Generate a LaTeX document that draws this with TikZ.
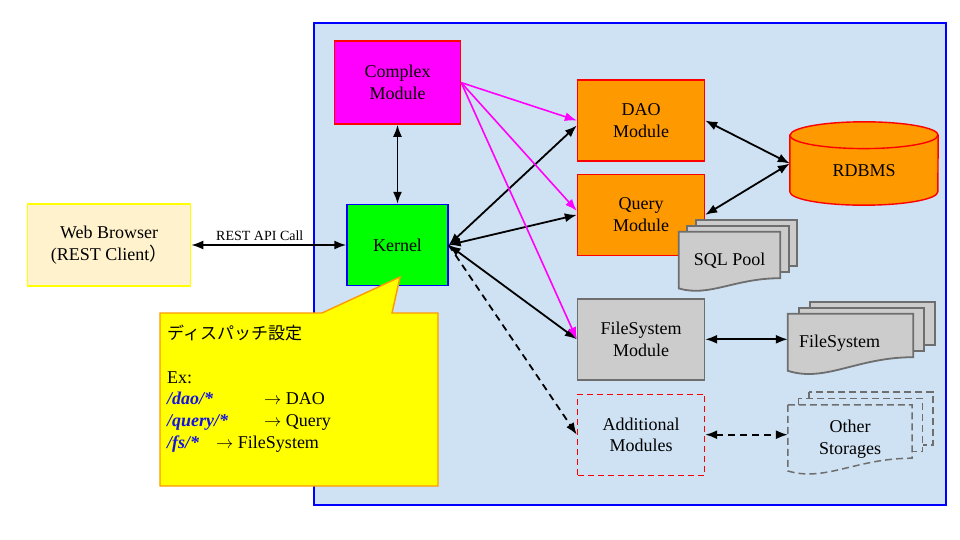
\documentclass[tikz,border=0pt]{standalone}
\usepackage{fontspec}
\setmainfont{Liberation Serif}
\newfontfamily\jpfont{Noto Sans CJK JP}
\usepackage{xcolor}
\usetikzlibrary{arrows.meta,positioning,calc}

\pgfdeclarelayer{docs}
\pgfdeclarelayer{docstext}
\pgfsetlayers{main,docs,docstext}

\definecolor{panelblue}{RGB}{207,226,243}
\definecolor{cream}{RGB}{255,242,204}
\definecolor{kernelgreen}{RGB}{0,255,0}
\definecolor{modorange}{RGB}{255,153,0}
\definecolor{complexpink}{RGB}{255,0,255}
\definecolor{noteyellow}{RGB}{255,255,0}
\definecolor{docgray}{RGB}{204,204,204}
\definecolor{edgegray}{RGB}{110,110,110}
\definecolor{pathblue}{RGB}{20,20,225}

\newcommand{\urlpat}[1]{\textcolor{pathblue}{\textbf{\textit{#1}}}}

% one page with a wavy bottom, drawn round a node
\newcommand{\docpage}[3]{%
  \path[#3] (#1.north west) -- (#1.north east) -- ([yshift=#2]#1.south east)
    .. controls ($(#1.south east)!0.45!(#1.south west)+(0,#2)$)
    and ($(#1.south west)!0.3!(#1.south east)+(0,-0.6*#2)$)
    .. ([yshift=0.15*#2]#1.south west) -- cycle;}
% three pages: node, dx, dy, wave, style
\newcommand{\docstack}[5]{%
  \foreach \k in {2,1}
    \path[#5] ([shift={(\k*#2,\k*#3)}]#1.north west) rectangle ([shift={(\k*#2,\k*#3+#4)}]#1.south east);
  \docpage{#1}{#4}{#5}}

\begin{document}
\begin{tikzpicture}[
    x=1pt, y=-1pt,
    every node/.style={font=\fontsize{18}{21.7}\selectfont},
    module/.style={rectangle, draw=red, line width=1.4pt, fill=modorange, minimum width=127pt, minimum height=81pt, inner sep=0pt, align=center},
    graymodule/.style={module, draw=edgegray, fill=docgray},
    newmodule/.style={module, draw=red, fill=none, dash pattern=on 6pt off 4pt},
    docbox/.style={rectangle, inner sep=0pt, align=center},
    docpath/.style={draw=edgegray, fill=docgray, line width=1.8pt},
    newdocpath/.style={draw=edgegray, fill=panelblue, line width=1.5pt, dash pattern=on 7pt off 4pt},
    cylpath/.style={draw=red, fill=modorange, line width=1.4pt},
    arrow/.style={<->, line width=1.8pt, >={Latex[length=12pt,width=9pt]}},
    callarrow/.style={->, line width=1.6pt, draw=complexpink, >={Latex[length=12pt,width=9pt]}},
    callout/.style={draw=modorange, fill=noteyellow, line width=1.4pt}
]
\useasboundingbox (0,0) rectangle (960,540);

% system panel
\path[draw=blue, line width=1.4pt, fill=panelblue] (314,23) rectangle (946,505);

% modules
\node[module, fill=kernelgreen, draw=blue, minimum width=101pt] (kernel) at (397.5,245) {Kernel};
\node[module, fill=complexpink, above=79pt of kernel, minimum width=126pt, minimum height=83pt] (complex) {Complex\\Module};
\node[module, fill=cream, draw=noteyellow, minimum width=163pt, minimum height=82pt, left=155pt of kernel] (browser) {Web Browser\\(REST Client{\jpfont ）}};

\node[module] (dao) at (641,120.5) {DAO\\Module};
\node[module, below=12pt of dao] (query) {Query\\Module};
\node[graymodule, below=42pt of query] (fsmod) {FileSystem\\Module};
\node[newmodule, below=13pt of fsmod] (addmod) {Additional\\Modules};

% storages
\begin{pgfonlayer}{docstext}
\node[docbox, minimum width=148pt, minimum height=83pt] (rdbms) at (864,163.5) {\raisebox{-7pt}[12pt][0pt]{RDBMS}};
\node[docbox, minimum width=101pt, minimum height=58pt] (sqlpool) at (729.5,261) {SQL Pool};
\node[docbox, minimum width=125pt, minimum height=59pt] (fsstore) at (850.5,343.5) {FileSystem\hspace*{22pt}};
\node[docbox, minimum width=124pt, minimum height=68pt] (otherstore) at (850,439) {Other\\Storages};
\end{pgfonlayer}
\begin{pgfonlayer}{docs}
\path[cylpath] ([yshift=-13.4pt]rdbms.north west) -- ([yshift=13.4pt]rdbms.south west)
    arc[start angle=180, end angle=360, x radius=74pt, y radius=13.4pt]
    -- ([yshift=-13.4pt]rdbms.north east)
    arc[start angle=0, end angle=180, x radius=74pt, y radius=13.4pt] -- cycle;
\path[cylpath, fill=none] ([yshift=-13.4pt]rdbms.north west)
    arc[start angle=180, end angle=360, x radius=74pt, y radius=13.4pt];
\docstack{sqlpool}{8.5pt}{6pt}{12pt}{docpath}
\docstack{fsstore}{11pt}{6pt}{16pt}{docpath}
\docstack{otherstore}{10.5pt}{6.5pt}{15pt}{newdocpath}
\end{pgfonlayer}

% arrows
\draw[arrow] (browser) -- node[above, font=\fontsize{14}{16}\selectfont, xshift=-9pt, inner sep=3pt] {REST API Call} (kernel);
\draw[arrow] (complex) -- (kernel);
\draw[arrow] (kernel.east) -- ([yshift=-5pt]dao.west);
\draw[arrow] (kernel.east) -- (query.west);
\draw[arrow] (kernel.east) -- (fsmod.west);
\draw[arrow, ->, dash pattern=on 7pt off 5pt] (kernel.east) -- (addmod.west);
\draw[callarrow] (complex.east) -- (dao.west);
\draw[callarrow] (complex.east) -- ([yshift=4pt]query.west);
\draw[callarrow] (complex.east) -- (fsmod.west);
\draw[arrow] (dao.east) -- (rdbms.west);
\draw[arrow] (query.east) -- (rdbms.west);
\draw[arrow] (fsmod.east) -- (fsmod.east -| fsstore.west);
\draw[arrow, dash pattern=on 7pt off 5pt] (addmod.east) -- (addmod.east -| otherstore.west);

% dispatch callout
\draw[callout] (160,313) -- (322,313) -- (400,277) -- (392,313) -- (438,313) -- (438,486) -- (160,486) -- cycle;
\node[anchor=north west, align=left, inner sep=0pt] (dispatch) at (167,325) {
    {\jpfont\fontsize{17}{21.7}\selectfont ディスパッチ設定}\\[21.7pt]
    Ex:\\
    \makebox[97pt][l]{\urlpat{/dao/*}}$\rightarrow$ DAO\\
    \makebox[97pt][l]{\urlpat{/query/*}}$\rightarrow$ Query\\
    \makebox[49pt][l]{\urlpat{/fs/*}}$\rightarrow$ FileSystem
};

\end{tikzpicture}
\end{document}
